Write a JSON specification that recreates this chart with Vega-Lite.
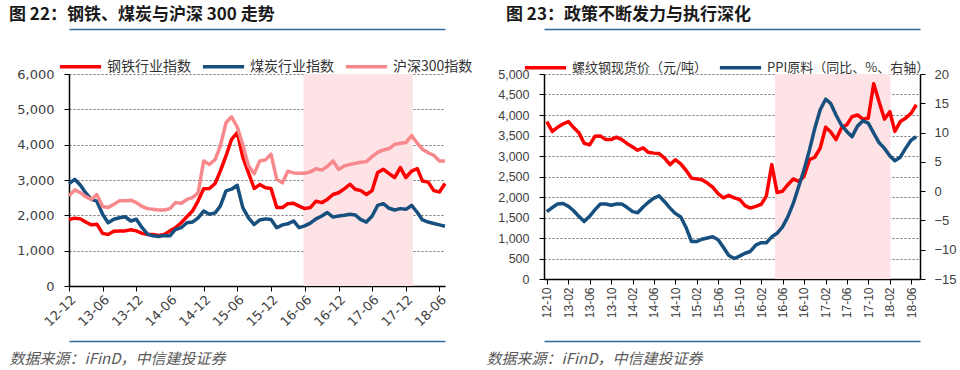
{
  "$schema": "https://vega.github.io/schema/vega-lite/v6.json",
  "background": "white",
  "padding": {"left": 9, "top": 6, "right": 0, "bottom": 0},
  "config": {
    "view": {"stroke": null},
    "font": "Noto Sans CJK SC",
    "title": {"font": "Noto Sans CJK SC", "fontSize": 17, "fontWeight": "bold", "color": "#1a1a1a", "anchor": "start", "frame": "bounds", "offset": 5},
    "legend": {"orient": "none", "direction": "horizontal", "symbolType": "stroke", "symbolSize": 1700, "symbolStrokeWidth": 4, "labelFont": "Noto Sans CJK SC", "labelColor": "#333333", "labelFontSize": 14, "columnPadding": 10, "labelOffset": 4, "labelLimit": 400},
    "axis": {"domain": true, "domainColor": "#000000", "domainWidth": 1.5, "tickColor": "#000000", "tickSize": 5, "labelColor": "#404040", "grid": false, "labelOverlap": false},
    "line": {"strokeWidth": 3.5, "strokeJoin": "round", "strokeCap": "butt"}
  },
  "datasets": {
    "L": [
      {"d": "2012/12/01", "a": 1880, "b": 2900, "c": 2550},
      {"d": "2013/01/01", "a": 1920, "b": 3020, "c": 2720},
      {"d": "2013/02/01", "a": 1900, "b": 2850, "c": 2640},
      {"d": "2013/03/01", "a": 1810, "b": 2640, "c": 2530},
      {"d": "2013/04/01", "a": 1730, "b": 2450, "c": 2450},
      {"d": "2013/05/01", "a": 1750, "b": 2400, "c": 2590},
      {"d": "2013/06/01", "a": 1490, "b": 2030, "c": 2250},
      {"d": "2013/07/01", "a": 1460, "b": 1790, "c": 2220},
      {"d": "2013/08/01", "a": 1550, "b": 1890, "c": 2310},
      {"d": "2013/09/01", "a": 1560, "b": 1930, "c": 2410},
      {"d": "2013/10/01", "a": 1560, "b": 1960, "c": 2410},
      {"d": "2013/11/01", "a": 1590, "b": 1840, "c": 2430},
      {"d": "2013/12/01", "a": 1560, "b": 1890, "c": 2360},
      {"d": "2014/01/01", "a": 1490, "b": 1650, "c": 2250},
      {"d": "2014/02/01", "a": 1460, "b": 1460, "c": 2190},
      {"d": "2014/03/01", "a": 1460, "b": 1420, "c": 2170},
      {"d": "2014/04/01", "a": 1430, "b": 1400, "c": 2150},
      {"d": "2014/05/01", "a": 1460, "b": 1430, "c": 2150},
      {"d": "2014/06/01", "a": 1560, "b": 1420, "c": 2190},
      {"d": "2014/07/01", "a": 1650, "b": 1600, "c": 2360},
      {"d": "2014/08/01", "a": 1790, "b": 1650, "c": 2340},
      {"d": "2014/09/01", "a": 1960, "b": 1790, "c": 2450},
      {"d": "2014/10/01", "a": 2120, "b": 1810, "c": 2500},
      {"d": "2014/11/01", "a": 2410, "b": 1930, "c": 2640},
      {"d": "2014/12/01", "a": 2750, "b": 2120, "c": 3540},
      {"d": "2015/01/01", "a": 2760, "b": 2030, "c": 3440},
      {"d": "2015/02/01", "a": 2900, "b": 2070, "c": 3580},
      {"d": "2015/03/01", "a": 3250, "b": 2260, "c": 3960},
      {"d": "2015/04/01", "a": 3680, "b": 2690, "c": 4620},
      {"d": "2015/05/01", "a": 4150, "b": 2740, "c": 4790},
      {"d": "2015/06/01", "a": 4340, "b": 2850, "c": 4500},
      {"d": "2015/07/01", "a": 3650, "b": 2220, "c": 4000},
      {"d": "2015/08/01", "a": 3200, "b": 1930, "c": 3400},
      {"d": "2015/09/01", "a": 2760, "b": 1740, "c": 3180},
      {"d": "2015/10/01", "a": 2870, "b": 1870, "c": 3540},
      {"d": "2015/11/01", "a": 2780, "b": 1900, "c": 3570},
      {"d": "2015/12/01", "a": 2760, "b": 1880, "c": 3730},
      {"d": "2016/01/01", "a": 2220, "b": 1650, "c": 3020},
      {"d": "2016/02/01", "a": 2220, "b": 1730, "c": 2920},
      {"d": "2016/03/01", "a": 2330, "b": 1760, "c": 3250},
      {"d": "2016/04/01", "a": 2340, "b": 1840, "c": 3200},
      {"d": "2016/05/01", "a": 2260, "b": 1650, "c": 3190},
      {"d": "2016/06/01", "a": 2190, "b": 1700, "c": 3190},
      {"d": "2016/07/01", "a": 2220, "b": 1780, "c": 3230},
      {"d": "2016/08/01", "a": 2400, "b": 1900, "c": 3320},
      {"d": "2016/09/01", "a": 2360, "b": 1980, "c": 3280},
      {"d": "2016/10/01", "a": 2450, "b": 2080, "c": 3380},
      {"d": "2016/11/01", "a": 2590, "b": 1950, "c": 3540},
      {"d": "2016/12/01", "a": 2640, "b": 1980, "c": 3300},
      {"d": "2017/01/01", "a": 2750, "b": 2000, "c": 3400},
      {"d": "2017/02/01", "a": 2880, "b": 2030, "c": 3440},
      {"d": "2017/03/01", "a": 2740, "b": 2010, "c": 3470},
      {"d": "2017/04/01", "a": 2700, "b": 1880, "c": 3500},
      {"d": "2017/05/01", "a": 2590, "b": 1810, "c": 3520},
      {"d": "2017/06/01", "a": 2700, "b": 1980, "c": 3660},
      {"d": "2017/07/01", "a": 3210, "b": 2280, "c": 3780},
      {"d": "2017/08/01", "a": 3300, "b": 2330, "c": 3850},
      {"d": "2017/09/01", "a": 3180, "b": 2200, "c": 3890},
      {"d": "2017/10/01", "a": 3070, "b": 2150, "c": 4010},
      {"d": "2017/11/01", "a": 3350, "b": 2190, "c": 4040},
      {"d": "2017/12/01", "a": 3070, "b": 2170, "c": 4060},
      {"d": "2018/01/01", "a": 3250, "b": 2280, "c": 4260},
      {"d": "2018/02/01", "a": 3320, "b": 2080, "c": 4040},
      {"d": "2018/03/01", "a": 2970, "b": 1870, "c": 3870},
      {"d": "2018/04/01", "a": 2940, "b": 1810, "c": 3770},
      {"d": "2018/05/01", "a": 2700, "b": 1770, "c": 3700},
      {"d": "2018/06/01", "a": 2660, "b": 1730, "c": 3540},
      {"d": "2018/07/01", "a": 2900, "b": 1690, "c": 3540}
    ],
    "R": [
      {"d": "2012/10/01", "a": 3840, "b": -3.5},
      {"d": "2012/11/01", "a": 3600, "b": -2.8},
      {"d": "2012/12/01", "a": 3700, "b": -2.2},
      {"d": "2013/01/01", "a": 3780, "b": -2.1},
      {"d": "2013/02/01", "a": 3840, "b": -2.6},
      {"d": "2013/03/01", "a": 3700, "b": -3.3},
      {"d": "2013/04/01", "a": 3570, "b": -4.3},
      {"d": "2013/05/01", "a": 3310, "b": -5.2},
      {"d": "2013/06/01", "a": 3270, "b": -4.3},
      {"d": "2013/07/01", "a": 3480, "b": -3.2},
      {"d": "2013/08/01", "a": 3490, "b": -2.2},
      {"d": "2013/09/01", "a": 3400, "b": -2.2},
      {"d": "2013/10/01", "a": 3400, "b": -2.4},
      {"d": "2013/11/01", "a": 3460, "b": -2.2},
      {"d": "2013/12/01", "a": 3400, "b": -2.2},
      {"d": "2014/01/01", "a": 3300, "b": -2.8},
      {"d": "2014/02/01", "a": 3220, "b": -3.5},
      {"d": "2014/03/01", "a": 3140, "b": -3.7},
      {"d": "2014/04/01", "a": 3200, "b": -2.7},
      {"d": "2014/05/01", "a": 3090, "b": -1.9},
      {"d": "2014/06/01", "a": 3070, "b": -1.2},
      {"d": "2014/07/01", "a": 3060, "b": -0.8},
      {"d": "2014/08/01", "a": 2950, "b": -1.8},
      {"d": "2014/09/01", "a": 2790, "b": -2.9},
      {"d": "2014/10/01", "a": 2910, "b": -3.8},
      {"d": "2014/11/01", "a": 2810, "b": -4.4},
      {"d": "2014/12/01", "a": 2650, "b": -6.2},
      {"d": "2015/01/01", "a": 2460, "b": -8.6},
      {"d": "2015/02/01", "a": 2440, "b": -8.6},
      {"d": "2015/03/01", "a": 2420, "b": -8.2},
      {"d": "2015/04/01", "a": 2340, "b": -8.0},
      {"d": "2015/05/01", "a": 2240, "b": -7.8},
      {"d": "2015/06/01", "a": 2080, "b": -8.3},
      {"d": "2015/07/01", "a": 1980, "b": -9.6},
      {"d": "2015/08/01", "a": 2040, "b": -11.0},
      {"d": "2015/09/01", "a": 1980, "b": -11.5},
      {"d": "2015/10/01", "a": 1940, "b": -11.1},
      {"d": "2015/11/01", "a": 1790, "b": -10.6},
      {"d": "2015/12/01", "a": 1730, "b": -10.3},
      {"d": "2016/01/01", "a": 1770, "b": -9.2},
      {"d": "2016/02/01", "a": 1820, "b": -8.8},
      {"d": "2016/03/01", "a": 2020, "b": -8.8},
      {"d": "2016/04/01", "a": 2790, "b": -7.8},
      {"d": "2016/05/01", "a": 2110, "b": -7.2},
      {"d": "2016/06/01", "a": 2140, "b": -6.1},
      {"d": "2016/07/01", "a": 2300, "b": -4.4},
      {"d": "2016/08/01", "a": 2440, "b": -2.1},
      {"d": "2016/09/01", "a": 2380, "b": 0.8},
      {"d": "2016/10/01", "a": 2500, "b": 3.6},
      {"d": "2016/11/01", "a": 2910, "b": 7.0},
      {"d": "2016/12/01", "a": 2970, "b": 10.7},
      {"d": "2017/01/01", "a": 3190, "b": 13.9},
      {"d": "2017/02/01", "a": 3700, "b": 15.7},
      {"d": "2017/03/01", "a": 3590, "b": 15.0},
      {"d": "2017/04/01", "a": 3400, "b": 13.0},
      {"d": "2017/05/01", "a": 3680, "b": 11.3},
      {"d": "2017/06/01", "a": 3760, "b": 10.2},
      {"d": "2017/07/01", "a": 3960, "b": 9.3},
      {"d": "2017/08/01", "a": 4000, "b": 11.1},
      {"d": "2017/09/01", "a": 3900, "b": 12.0},
      {"d": "2017/10/01", "a": 3920, "b": 11.6},
      {"d": "2017/11/01", "a": 4760, "b": 9.9},
      {"d": "2017/12/01", "a": 4330, "b": 8.3},
      {"d": "2018/01/01", "a": 3900, "b": 7.3},
      {"d": "2018/02/01", "a": 4080, "b": 6.0},
      {"d": "2018/03/01", "a": 3600, "b": 5.2},
      {"d": "2018/04/01", "a": 3840, "b": 5.8},
      {"d": "2018/05/01", "a": 3920, "b": 7.3},
      {"d": "2018/06/01", "a": 4040, "b": 8.7},
      {"d": "2018/07/01", "a": 4250, "b": 9.3}
    ]
  },
  "resolve": {"scale": {"color": "independent"}, "legend": {"color": "independent"}},
  "spacing": 13,
  "hconcat": [
    {
      "width": 376,
      "height": 212,
      "title": {"text": "图 22：钢铁、煤炭与沪深 300 走势"},
      "resolve": {"axis": {"x": "independent"}},
      "layer": [
        {
          "data": {"values": [{"s": "2016/05/25", "e": "2018/01/07"}]},
          "mark": {"type": "rect", "color": "#FDE2E6"},
          "encoding": {
            "x": {"field": "s", "type": "temporal",
              "scale": {"domain": [{"year": 2012, "month": 12, "date": 1}, {"year": 2018, "month": 7, "date": 1}]},
              "axis": {"orient": "bottom", "offset": 55, "domain": true, "domainColor": "#2E6AA0", "domainWidth": 1.5, "ticks": false, "labels": false,
                "title": "数据来源：iFinD，中信建投证券", "titleFont": "Noto Sans CJK SC", "titleFontStyle": "italic", "titleFontWeight": "normal",
                "titleFontSize": 15, "titleColor": "#595959", "titleAlign": "left", "titleAnchor": "start", "titleX": -60, "titleY": 22, "titleBaseline": "alphabetic"}},
            "x2": {"field": "e"}
          }
        },
        {
          "data": {"name": "L"},
          "transform": [{"fold": ["a", "b", "c"], "as": ["k", "v"]}, {"filter": {"not": {"field": "k", "equal": "c"}}}],
          "mark": {"type": "line"},
          "encoding": {
            "x": {"field": "d", "type": "temporal",
              "scale": {"domain": [{"year": 2012, "month": 12, "date": 1}, {"year": 2018, "month": 7, "date": 1}]},
              "axis": {"orient": "bottom", "title": null, "domain": true, "format": "%y-%m", "labelAngle": -45, "labelFont": "DejaVu Sans", "labelFontSize": 13, "labelPadding": 2, "labelOverlap": false,
                "values": [{"year": 2012, "month": 12, "date": 1}, {"year": 2013, "month": 6, "date": 1}, {"year": 2013, "month": 12, "date": 1}, {"year": 2014, "month": 6, "date": 1}, {"year": 2014, "month": 12, "date": 1}, {"year": 2015, "month": 6, "date": 1}, {"year": 2015, "month": 12, "date": 1}, {"year": 2016, "month": 6, "date": 1}, {"year": 2016, "month": 12, "date": 1}, {"year": 2017, "month": 6, "date": 1}, {"year": 2017, "month": 12, "date": 1}, {"year": 2018, "month": 6, "date": 1}]}},
            "y": {"field": "v", "type": "quantitative", "scale": {"domain": [0, 6000], "nice": false},
              "axis": {"title": null, "domain": true, "values": [0, 1000, 2000, 3000, 4000, 5000, 6000], "format": ",.0f", "grid": true, "gridColor": "#707070", "gridDash": [2, 2], "gridWidth": 1, "labelFont": "DejaVu Sans", "labelFontSize": 13, "labelPadding": 10}},
            "color": {"field": "k", "type": "nominal", "scale": {"domain": ["a", "b", "c"], "range": ["#FF0000", "#17507F", "#F7898D"]},
              "legend": {"title": null, "orient": "none", "legendX": -11, "legendY": -30, "labelExpr": "datum.label == 'a' ? '钢铁行业指数' : datum.label == 'b' ? '煤炭行业指数' : '沪深300指数'"}}
          }
        },
        {
          "data": {"name": "L"},
          "transform": [{"fold": ["a", "b", "c"], "as": ["k", "v"]}, {"filter": {"field": "k", "equal": "c"}}],
          "mark": {"type": "line"},
          "encoding": {
            "x": {"field": "d", "type": "temporal",
              "scale": {"domain": [{"year": 2012, "month": 12, "date": 1}, {"year": 2018, "month": 7, "date": 1}]},
              "axis": {"orient": "top", "offset": 45, "domain": true, "domainColor": "#2E6AA0", "domainWidth": 1.5, "ticks": false, "labels": false, "title": null}},
            "y": {"field": "v", "type": "quantitative", "scale": {"domain": [0, 6000], "nice": false},
              "axis": {"title": null, "domain": true, "values": [0, 1000, 2000, 3000, 4000, 5000, 6000], "format": ",.0f", "grid": true, "gridColor": "#707070", "gridDash": [2, 2], "gridWidth": 1, "labelFont": "DejaVu Sans", "labelFontSize": 13, "labelPadding": 10}},
            "color": {"field": "k", "type": "nominal", "scale": {"domain": ["a", "b", "c"], "range": ["#FF0000", "#17507F", "#F7898D"]},
              "legend": {"title": null, "orient": "none", "legendX": -11, "legendY": -30, "labelExpr": "datum.label == 'a' ? '钢铁行业指数' : datum.label == 'b' ? '煤炭行业指数' : '沪深300指数'"}}
          }
        }
      ]
    },
    {
      "width": 376,
      "height": 205,
      "title": {"text": "图 23：政策不断发力与执行深化", "dx": 20},
      "resolve": {"axis": {"x": "independent"}, "scale": {"y": "independent"}},
      "layer": [
        {
          "data": {"values": [{"s": "2016/04/19", "e": "2018/02/04"}]},
          "mark": {"type": "rect", "color": "#FDE2E6"},
          "encoding": {
            "x": {"field": "s", "type": "temporal",
              "scale": {"domain": [{"year": 2012, "month": 9, "date": 15}, {"year": 2018, "month": 7, "date": 22}]},
              "axis": {"orient": "bottom", "offset": 62, "domain": true, "domainColor": "#2E6AA0", "domainWidth": 1.5, "ticks": false, "labels": false,
                "title": "数据来源：iFinD，中信建投证券", "titleFont": "Noto Sans CJK SC", "titleFontStyle": "italic", "titleFontWeight": "normal",
                "titleFontSize": 15, "titleColor": "#595959", "titleAlign": "left", "titleAnchor": "start", "titleX": -58, "titleY": 22, "titleBaseline": "alphabetic"}},
            "x2": {"field": "e"}
          }
        },
        {
          "data": {"name": "R"},
          "transform": [{"fold": ["a", "b"], "as": ["k", "v"]}, {"filter": {"field": "k", "equal": "a"}}],
          "mark": {"type": "line"},
          "encoding": {
            "x": {"field": "d", "type": "temporal",
              "scale": {"domain": [{"year": 2012, "month": 9, "date": 15}, {"year": 2018, "month": 7, "date": 22}]},
              "axis": {"orient": "bottom", "title": null, "domain": true, "format": "%y-%m", "labelAngle": -90, "labelFont": "Liberation Sans", "labelFontSize": 12, "labelPadding": 3, "labelOverlap": false,
                "values": [{"year": 2012, "month": 10, "date": 1}, {"year": 2013, "month": 2, "date": 1}, {"year": 2013, "month": 6, "date": 1}, {"year": 2013, "month": 10, "date": 1}, {"year": 2014, "month": 2, "date": 1}, {"year": 2014, "month": 6, "date": 1}, {"year": 2014, "month": 10, "date": 1}, {"year": 2015, "month": 2, "date": 1}, {"year": 2015, "month": 6, "date": 1}, {"year": 2015, "month": 10, "date": 1}, {"year": 2016, "month": 2, "date": 1}, {"year": 2016, "month": 6, "date": 1}, {"year": 2016, "month": 10, "date": 1}, {"year": 2017, "month": 2, "date": 1}, {"year": 2017, "month": 6, "date": 1}, {"year": 2017, "month": 10, "date": 1}, {"year": 2018, "month": 2, "date": 1}, {"year": 2018, "month": 6, "date": 1}]}},
            "y": {"field": "v", "type": "quantitative", "scale": {"domain": [0, 5000], "nice": false},
              "axis": {"title": null, "orient": "left", "domain": true, "values": [0, 500, 1000, 1500, 2000, 2500, 3000, 3500, 4000, 4500, 5000], "format": ",.0f", "grid": true, "gridColor": "#707070", "gridDash": [2, 2], "gridWidth": 1, "labelFont": "Liberation Sans", "labelFontSize": 12.5, "labelPadding": 10}},
            "color": {"field": "k", "type": "nominal", "scale": {"domain": ["a", "b"], "range": ["#FF0000", "#17507F"]},
              "legend": {"title": null, "orient": "none", "legendX": -21, "legendY": -29, "labelFontSize": 13, "labelLimit": 400, "labelExpr": "datum.label == 'a' ? '螺纹钢现货价（元/吨）' : 'PPI原料（同比、%、右轴）'"}}
          }
        },
        {
          "data": {"name": "R"},
          "transform": [{"fold": ["a", "b"], "as": ["k", "v"]}, {"filter": {"field": "k", "equal": "b"}}],
          "mark": {"type": "line"},
          "encoding": {
            "x": {"field": "d", "type": "temporal",
              "scale": {"domain": [{"year": 2012, "month": 9, "date": 15}, {"year": 2018, "month": 7, "date": 22}]},
              "axis": {"orient": "top", "offset": 45, "domain": true, "domainColor": "#2E6AA0", "domainWidth": 1.5, "ticks": false, "labels": false, "title": null}},
            "y": {"field": "v", "type": "quantitative", "scale": {"domain": [-15, 20], "nice": false},
              "axis": {"title": null, "orient": "right", "domain": true, "values": [-15, -10, -5, 0, 5, 10, 15, 20], "grid": false, "labelFont": "Liberation Sans", "labelFontSize": 13, "labelPadding": 9}},
            "color": {"field": "k", "type": "nominal", "scale": {"domain": ["a", "b"], "range": ["#FF0000", "#17507F"]},
              "legend": {"title": null, "orient": "none", "legendX": -21, "legendY": -29, "labelFontSize": 13, "labelLimit": 400, "labelExpr": "datum.label == 'a' ? '螺纹钢现货价（元/吨）' : 'PPI原料（同比、%、右轴）'"}}
          }
        }
      ]
    }
  ]
}
